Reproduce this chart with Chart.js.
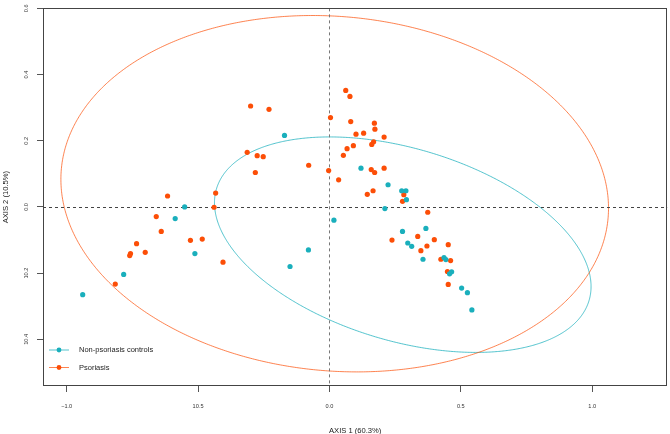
<!DOCTYPE html>
<html><head><meta charset="utf-8">
<script src="https://cdn.jsdelivr.net/npm/chart.js@4.4.1/dist/chart.umd.min.js"></script>
<style>html,body{margin:0;padding:0;background:#fff;}#wrap{width:670px;height:434px;position:relative;}</style>
</head><body><div id="wrap"><canvas id="c" width="670" height="434"></canvas></div>
<script>
const seriesNames = ["Non-psoriasis controls", "Psoriasis"];
const seriesColors = ["#1AAFBC", "#FC4E07"];
const ellipseColors = ["rgba(26,175,188,0.75)", "rgba(252,78,7,0.7)"];

const controlsX = [-0.171, 0.120, 0.223, 0.275, 0.291, 0.293, 0.017, 0.211, 0.367, 0.278, 0.298, 0.313, 0.356, 0.436, 0.443, 0.465, 0.457, 0.503, 0.525, 0.542, -0.551, -0.587, -0.512, -0.783, -0.939, -0.080, -0.150];
const controlsY = [0.216, 0.117, 0.067, 0.049, 0.049, 0.022, -0.040, -0.005, -0.065, -0.074, -0.109, -0.119, -0.158, -0.153, -0.159, -0.196, -0.202, -0.245, -0.259, -0.311, 0.000, -0.035, -0.141, -0.204, -0.265, -0.130, -0.180];

const psoriasisX = [0.062, 0.078, -0.300, -0.230, 0.004, 0.081, 0.171, 0.173, 0.101, 0.130, 0.208, 0.168, 0.161, 0.091, 0.067, 0.053, -0.313, -0.275, -0.252, -0.282, -0.079, -0.003, 0.035, 0.159, 0.172, 0.208, 0.144, 0.166, 0.283, 0.278, -0.433, -0.439, 0.374, 0.238, 0.336, 0.399, 0.371, 0.452, 0.348, 0.424, 0.461, 0.449, 0.452, -0.616, -0.659, -0.640, -0.734, -0.757, -0.760, -0.701, -0.529, -0.484, -0.405, -0.815];
const psoriasisY = [0.352, 0.334, 0.305, 0.295, 0.270, 0.258, 0.253, 0.235, 0.220, 0.223, 0.211, 0.197, 0.189, 0.185, 0.176, 0.156, 0.165, 0.155, 0.152, 0.104, 0.126, 0.110, 0.082, 0.113, 0.104, 0.117, 0.038, 0.049, 0.037, 0.017, 0.042, -0.001, -0.016, -0.100, -0.089, -0.099, -0.118, -0.114, -0.132, -0.158, -0.162, -0.195, -0.234, 0.033, -0.029, -0.074, -0.111, -0.141, -0.147, -0.137, -0.101, -0.097, -0.167, -0.233];

const xTickValues = [-1, -0.5, 0, 0.5, 1];
const xTickLabels = ["\u22121.0", "10.5", "0.0", "0.5", "1.0"];
const yTickValues = [-0.4, -0.2, 0, 0.2, 0.4, 0.6];
const yTickLabels = ["10.4", "10.2", "0.0", "0.2", "0.4", "0.6"];
const xAxisTitle = "AXIS 1 (60.3%)";
const yAxisTitle = "AXIS 2 (10.5%)";
const xRange = [-1.090, 1.286];
const yRange = [-0.541, 0.6];

// confidence ellipses: centre and two conjugate semi-axis vectors (data units)
const controlsEllipseCenter = [0.279, -0.114];
const controlsEllipseAxisA = [0.708, -0.171];
const controlsEllipseAxisB = [-0.110, -0.277];
const psoriasisEllipseCenter = [0.020, 0.040];
const psoriasisEllipseAxisA = [1.040, -0.076];
const psoriasisEllipseAxisB = [-0.063, -0.533];

const toPoints = (xs, ys) => xs.map((v, i) => ({x: v, y: ys[i]}));
const ellipses = [
  {c: controlsEllipseCenter, a: controlsEllipseAxisA, b: controlsEllipseAxisB, color: ellipseColors[0]},
  {c: psoriasisEllipseCenter, a: psoriasisEllipseAxisA, b: psoriasisEllipseAxisB, color: ellipseColors[1]}
];
const FONT = "'Liberation Sans', Arial, Helvetica, sans-serif";

const decor = {
  id: 'decor',
  beforeDatasetsDraw(chart) {
    const {ctx, chartArea: ar, scales: {x, y}} = chart;
    ctx.save();
    ctx.beginPath();
    ctx.rect(ar.left, ar.top, ar.right - ar.left, ar.bottom - ar.top);
    ctx.clip();
    ellipses.forEach(e => {
      ctx.beginPath();
      for (let i = 0; i <= 720; i++) {
        const t = i * Math.PI / 360;
        const dx = e.c[0] + e.a[0] * Math.cos(t) + e.b[0] * Math.sin(t);
        const dy = e.c[1] + e.a[1] * Math.cos(t) + e.b[1] * Math.sin(t);
        const px = x.getPixelForValue(dx), py = y.getPixelForValue(dy);
        if (i === 0) ctx.moveTo(px, py); else ctx.lineTo(px, py);
      }
      ctx.strokeStyle = e.color;
      ctx.lineWidth = 1;
      ctx.stroke();
    });
    // zero reference lines
    ctx.setLineDash([3, 3]);
    ctx.lineWidth = 1;
    const y0 = Math.round(y.getPixelForValue(0)) + 0.5;
    ctx.strokeStyle = '#444';
    ctx.beginPath(); ctx.moveTo(ar.left, y0); ctx.lineTo(ar.right, y0); ctx.stroke();
    const x0 = Math.round(x.getPixelForValue(0)) + 0.5;
    ctx.strokeStyle = '#777';
    ctx.beginPath(); ctx.moveTo(x0, ar.top); ctx.lineTo(x0, ar.bottom); ctx.stroke();
    ctx.restore();
  },
  afterDraw(chart) {
    const {ctx, chartArea: ar} = chart;
    ctx.save();
    ctx.strokeStyle = '#444';
    ctx.lineWidth = 1;
    ctx.strokeRect(Math.round(ar.left) + 0.5, Math.round(ar.top) + 0.5, Math.round(ar.right - ar.left) - 1, Math.round(ar.bottom - ar.top) - 1);
    // legend
    const rows = [350, 367.5];
    chart.data.datasets.forEach((ds, i) => {
      const ly = rows[i];
      ctx.strokeStyle = ellipseColors[i];
      ctx.beginPath(); ctx.moveTo(49, ly); ctx.lineTo(69, ly); ctx.stroke();
      ctx.fillStyle = seriesColors[i];
      ctx.beginPath(); ctx.arc(59, ly, 2.4, 0, Math.PI * 2); ctx.fill();
      ctx.fillStyle = '#222';
      ctx.font = '7.5px ' + FONT;
      ctx.textBaseline = 'middle';
      ctx.textAlign = 'left';
      ctx.fillText(ds.label, 79, ly);
    });
    ctx.restore();
  }
};

new Chart(document.getElementById('c'), {
  type: 'scatter',
  data: {
    datasets: [
      {label: seriesNames[0], data: toPoints(controlsX, controlsY), backgroundColor: seriesColors[0], borderWidth: 0, pointRadius: 2.6, pointHoverRadius: 2.6},
      {label: seriesNames[1], data: toPoints(psoriasisX, psoriasisY), backgroundColor: seriesColors[1], borderWidth: 0, pointRadius: 2.6, pointHoverRadius: 2.6}
    ]
  },
  options: {
    responsive: false,
    animation: false,
    devicePixelRatio: 1,
    layout: {padding: {top: 2.6, right: 2, left: 0, bottom: 0}},
    plugins: {legend: {display: false}, tooltip: {enabled: false}},
    scales: {
      x: {
        type: 'linear', min: xRange[0], max: xRange[1],
        afterBuildTicks: s => { s.ticks = xTickValues.map(v => ({value: v})); },
        afterFit: s => { s.height = 48; },
        border: {display: false},
        grid: {display: true, drawOnChartArea: false, drawTicks: true, tickLength: 6, color: '#555'},
        ticks: {padding: 11, color: '#333', font: {family: FONT, size: 5.6}, maxRotation: 0, autoSkip: false,
          callback: v => { const i = xTickValues.indexOf(v); return i >= 0 ? xTickLabels[i] : ''; }},
        title: {display: true, text: xAxisTitle, color: '#222', font: {family: FONT, size: 7.6}, padding: {top: 0, bottom: -1}}
      },
      y: {
        type: 'linear', min: yRange[0], max: yRange[1],
        afterBuildTicks: s => { s.ticks = yTickValues.map(v => ({value: v})); },
        afterFit: s => { s.width = 43; },
        border: {display: false},
        grid: {display: true, drawOnChartArea: false, drawTicks: true, tickLength: 6, color: '#555'},
        ticks: {padding: 5, color: '#333', font: {family: FONT, size: 5.6}, minRotation: 90, maxRotation: 90, crossAlign: 'center', autoSkip: false,
          callback: v => { const i = yTickValues.indexOf(v); return i >= 0 ? yTickLabels[i] : ''; }},
        title: {display: true, text: yAxisTitle, color: '#222', font: {family: FONT, size: 7.6}, padding: {top: 1.5, bottom: 0}}
      }
    }
  },
  plugins: [decor]
});
</script>
</body></html>
